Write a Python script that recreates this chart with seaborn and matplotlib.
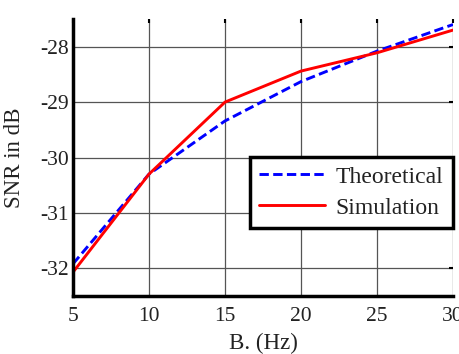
import numpy as np
import pandas as pd
import matplotlib
matplotlib.use("Agg")
import matplotlib.pyplot as plt
import seaborn as sns

# --- data ---
bandwidth = [5, 10, 15, 20, 25, 30]
snr_theoretical = [-31.92, -30.30, -29.34, -28.63, -28.08, -27.60]
snr_simulation = [-32.07, -30.30, -29.00, -28.44, -28.11, -27.70]

df = pd.DataFrame({
    "B": bandwidth * 2,
    "SNR": snr_theoretical + snr_simulation,
    "kind": ["Theoretical"] * len(bandwidth) + ["Simulation"] * len(bandwidth),
})

sns.set_style("white")
plt.rcParams["font.family"] = ["Liberation Serif", "DejaVu Serif"]
txt = "#222222"

fig = plt.figure(figsize=(4.6, 3.54), dpi=100)
ax = fig.add_axes([73 / 460, 1 - 296 / 354, 380 / 460, 277 / 354])

sns.lineplot(data=df, x="B", y="SNR", hue="kind", style="kind",
             palette={"Theoretical": "#0000ff", "Simulation": "#ff0000"},
             dashes={"Theoretical": (3.2, 1.5), "Simulation": ""},
             linewidth=2.1, ax=ax)

ax.set_xlim(5, 30)
ax.set_ylim(-32.5, -27.5)
ax.set_xticks([5, 10, 15, 20, 25, 30])
ax.set_yticks([-32, -31, -30, -29, -28])
ax.set_yticklabels(["-32", "-31", "-30", "-29", "-28"])
ax.grid(True, color="#555555", linewidth=0.9)
ax.tick_params(direction="in", top=True, right=True, length=3, width=1.5,
               labelsize=15.5, color="black", labelcolor=txt)
ax.tick_params(axis="x", pad=8)
ax.tick_params(axis="y", pad=3)

for side in ["top", "right"]:
    ax.spines[side].set_visible(False)
for side in ["left", "bottom"]:
    ax.spines[side].set_linewidth(2.5)
    ax.spines[side].set_color("black")

ax.set_xlabel("B. (Hz)", fontsize=16.5, labelpad=5, color=txt)
ax.set_ylabel("SNR in dB", fontsize=16.5, labelpad=11, color=txt)

leg = ax.legend(loc="lower right", bbox_to_anchor=(1.0, 0.245), fontsize=17,
                frameon=True, fancybox=False, handlelength=2.8,
                borderpad=0.4, labelspacing=0.4, handletextpad=0.45,
                borderaxespad=0)
for t in leg.get_texts():
    t.set_color(txt)
leg.get_frame().set_edgecolor("black")
leg.get_frame().set_linewidth(2.5)
leg.get_frame().set_alpha(1)

fig.savefig("out.png", dpi=100)
